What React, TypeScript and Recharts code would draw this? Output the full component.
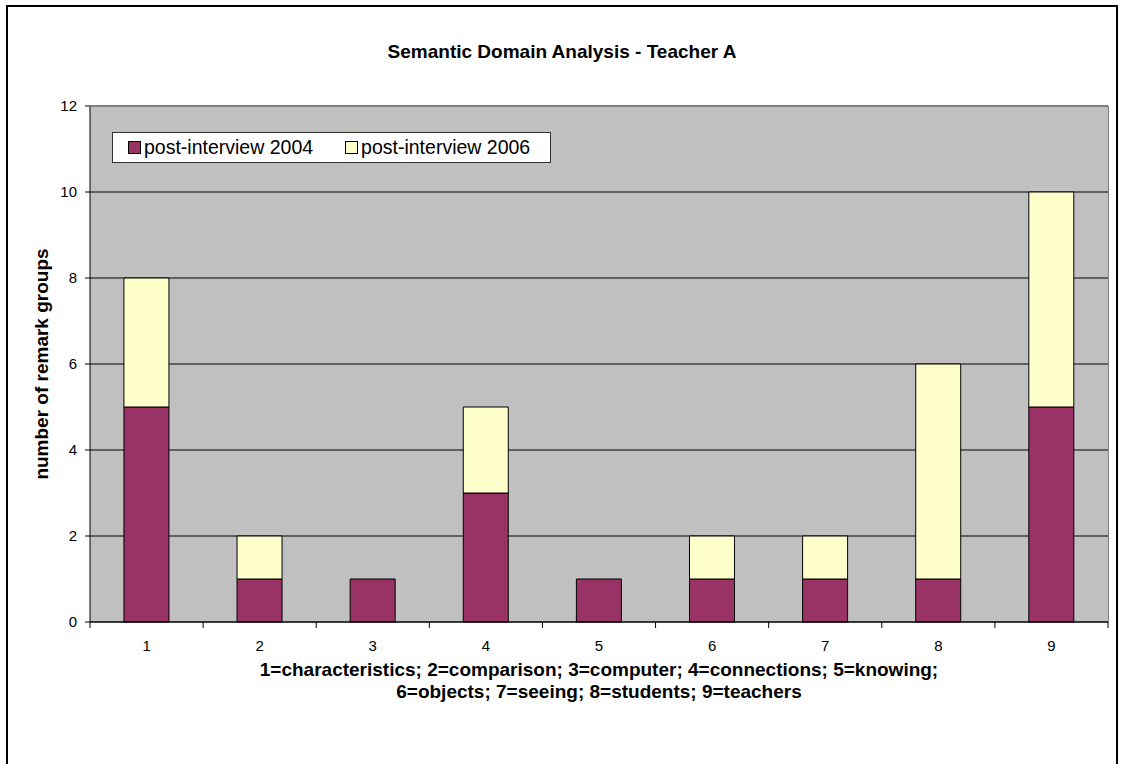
import { BarChart, Bar, XAxis, YAxis, CartesianGrid } from "recharts";

const categories = ["1", "2", "3", "4", "5", "6", "7", "8", "9"];
const post2004 = [5, 1, 1, 3, 1, 1, 1, 1, 5];
const post2006 = [3, 1, 0, 2, 0, 1, 1, 5, 5];
const yTicks = [0, 2, 4, 6, 8, 10, 12];

const rows = categories.map((c, i) => ({
  cat: c,
  a: post2004[i],
  b: post2006[i],
}));

const font = "'Liberation Sans', Arial, sans-serif";
const plotLeft = 90;
const plotRight = 1108;
const step = (plotRight - plotLeft) / categories.length;

function CatTick(props: any) {
  const { x, y, payload, index } = props;
  const last = index === categories.length - 1;
  return (
    <g>
      <line x1={x - step / 2} x2={x - step / 2} y1={y - 8} y2={y - 2} stroke="#000" />
      {last && (
        <line x1={x + step / 2} x2={x + step / 2} y1={y - 8} y2={y - 2} stroke="#000" />
      )}
      <text x={x} y={y + 21} textAnchor="middle" fontSize={15} fontFamily={font} fill="#000">
        {payload.value}
      </text>
    </g>
  );
}

function LegendBox() {
  const item = (color: string, label: string, gap: number) => (
    <span style={{ display: "inline-flex", alignItems: "center", marginRight: gap }}>
      <span
        style={{
          width: 11,
          height: 11,
          background: color,
          border: "1px solid #000",
          marginRight: 3,
        }}
      />
      {label}
    </span>
  );
  return (
    <div
      style={{
        position: "absolute",
        left: 112,
        top: 132,
        width: 439,
        height: 31,
        background: "#fff",
        border: "1px solid #333",
        boxSizing: "border-box",
        display: "flex",
        alignItems: "center",
        paddingLeft: 15,
        fontFamily: font,
        fontSize: 19.5,
        color: "#000",
        whiteSpace: "nowrap",
      }}
    >
      {item("#993366", "post-interview 2004", 32)}
      {item("#FFFFCC", "post-interview 2006", 0)}
    </div>
  );
}

export default function App() {
  return (
    <div style={{ position: "absolute", left: 0, top: 0, width: 1125, height: 764, background: "#fff", overflow: "hidden" }}>
      <div
        style={{
          position: "absolute",
          left: 6,
          top: 5,
          width: 1112,
          height: 800,
          border: "2px solid #000",
          boxSizing: "border-box",
        }}
      />
      <div
        style={{
          position: "absolute",
          left: 6,
          width: 1112,
          top: 41,
          textAlign: "center",
          fontFamily: font,
          fontWeight: "bold",
          fontSize: 19,
          lineHeight: "22px",
        }}
      >
        Semantic Domain Analysis - Teacher A
      </div>
      <div style={{ position: "absolute", left: 0, top: 0 }}>
        <BarChart
          width={1125}
          height={764}
          data={rows}
          margin={{ top: 106, left: 30, right: 17, bottom: 112 }}
          barCategoryGap="30%"
        >
          <CartesianGrid vertical={false} stroke="#000" fill="#C0C0C0" fillOpacity={1} />
          <XAxis
            dataKey="cat"
            height={30}
            stroke="#000"
            tickLine={false}
            tick={<CatTick />}
            interval={0}
          />
          <YAxis
            width={60}
            domain={[0, 12]}
            ticks={yTicks}
            stroke="#000"
            tickSize={5}
            tickMargin={8}
            tick={{ fontSize: 15, fontFamily: font, fill: "#000" }}
          />
          <Bar dataKey="a" stackId="s" fill="#993366" stroke="#000" strokeWidth={1} isAnimationActive={false} />
          <Bar dataKey="b" stackId="s" fill="#FFFFCC" stroke="#000" strokeWidth={1} isAnimationActive={false} />
        </BarChart>
      </div>
      <div
        style={{
          position: "absolute",
          left: plotLeft,
          top: 106,
          width: plotRight - plotLeft + 1,
          height: 516,
          borderTop: "1px solid #808080",
          borderRight: "1px solid #808080",
          boxSizing: "border-box",
          pointerEvents: "none",
        }}
      />
      <LegendBox />
      <div
        style={{
          position: "absolute",
          left: 42 - 150,
          top: 364 - 11,
          width: 300,
          lineHeight: "22px",
          textAlign: "center",
          transform: "rotate(-90deg)",
          fontFamily: font,
          fontWeight: "bold",
          fontSize: 19,
        }}
      >
        number of remark groups
      </div>
      <div
        style={{
          position: "absolute",
          left: 99,
          width: 1000,
          top: 659,
          textAlign: "center",
          fontFamily: font,
          fontWeight: "bold",
          fontSize: 19,
          lineHeight: "22px",
        }}
      >
        1=characteristics; 2=comparison; 3=computer; 4=connections; 5=knowing;
        <br />
        6=objects; 7=seeing; 8=students; 9=teachers
      </div>
    </div>
  );
}
